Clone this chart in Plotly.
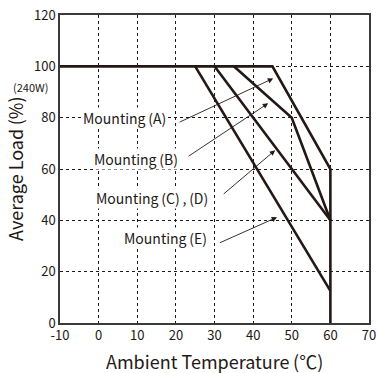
import plotly.graph_objects as go

FONT = "Noto Sans CJK JP"

# Data: derating curves (x: ambient temp °C, y: average load %)
a_x = [-10, 45, 60, 60]
a_y = [100, 100, 60, 0]
b_x = [35, 50, 60]
b_y = [100, 80, 40]
cd_x = [30, 60]
cd_y = [100, 40]
e_x = [25, 60]
e_y = [100, 12.5]

x_ticks = [-10, 0, 10, 20, 30, 40, 50, 60, 70]
x_tick_text = ["-10", "0", "10", "20", "30", "40", "50", "60", "70"]
y_ticks = [0, 20, 40, 60, 80, 100, 120]

labels = ["Mounting\u2009(A)", "Mounting\u2009(B)", "Mounting\u2009(C)\u2009,\u2009(D)", "Mounting\u2009(E)"]
label_x = [6.8, 9.7, 13.9, 17.2]
label_y = [80, 63.8, 48.6, 33]
arrow_tail_x = [20.6, 22.9, 32.0, 31.0]
arrow_tail_y = [78, 64.6, 49.8, 31]
arrow_tip_x = [45.2, 43.9, 45.7, 46.2]
arrow_tip_y = [95.3, 85.6, 67.3, 41.2]

fig = go.Figure()
line = dict(color="#231815", width=2.6)
for xs, ys in [(a_x, a_y), (b_x, b_y), (cd_x, cd_y), (e_x, e_y)]:
    fig.add_trace(go.Scatter(x=xs, y=ys, mode="lines", line=line,
                             showlegend=False, hoverinfo="skip"))

anns = []
for tx, ty, hx, hy in zip(arrow_tail_x, arrow_tail_y, arrow_tip_x, arrow_tip_y):
    anns.append(dict(x=hx, y=hy, ax=tx, ay=ty, xref="x", yref="y", axref="x", ayref="y",
                     text="", showarrow=True, arrowhead=2, arrowsize=1.2, arrowwidth=0.9,
                     arrowcolor="#231815"))
for t, x, y in zip(labels, label_x, label_y):
    anns.append(dict(x=x, y=y, xref="x", yref="y", text=t, showarrow=False,
                     bgcolor="white", font=dict(family=FONT, size=14, color="#231815"),
                     borderpad=0))
anns.append(dict(x=-0.032, y=92, xref="paper", yref="y", text="(240W)", showarrow=False,
                 xanchor="right", font=dict(family=FONT, size=11, color="#231815")))
anns.append(dict(x=-0.146, y=0.5, xref="paper", yref="paper", text="Average Load\u2009(%)",
                 showarrow=False, textangle=-90, xanchor="center", yanchor="middle",
                 font=dict(family=FONT, size=18, color="#231815")))
anns.append(dict(x=0.5, y=-0.122, xref="paper", yref="paper", text="Ambient Temperature\u2009(℃)",
                 showarrow=False, xanchor="center", yanchor="middle",
                 font=dict(family=FONT, size=18, color="#231815")))

fig.update_layout(
    width=377, height=373,
    margin=dict(l=60, r=8, t=15, b=50),
    paper_bgcolor="white", plot_bgcolor="white",
    font=dict(family=FONT, color="#231815"),
    annotations=anns,
    xaxis=dict(range=[-10, 70], tickvals=x_ticks, ticktext=x_tick_text, showgrid=True,
               gridcolor="#231815", griddash="dot", gridwidth=1, zeroline=False,
               showline=True, mirror=True, linecolor="#3a3a3a", linewidth=1.5, ticks="",
               tickfont=dict(size=13), automargin=False),
    yaxis=dict(range=[0, 120], tickvals=y_ticks, showgrid=True, gridcolor="#231815",
               griddash="dot", gridwidth=1, zeroline=False, showline=True, mirror=True,
               linecolor="#3a3a3a", linewidth=1.5, ticks="", tickfont=dict(size=13),
               automargin=False),
)
fig.write_html("out.html", config={"displayModeBar": False},
               post_script="document.body.style.margin='0';document.body.style.overflow='hidden';")
